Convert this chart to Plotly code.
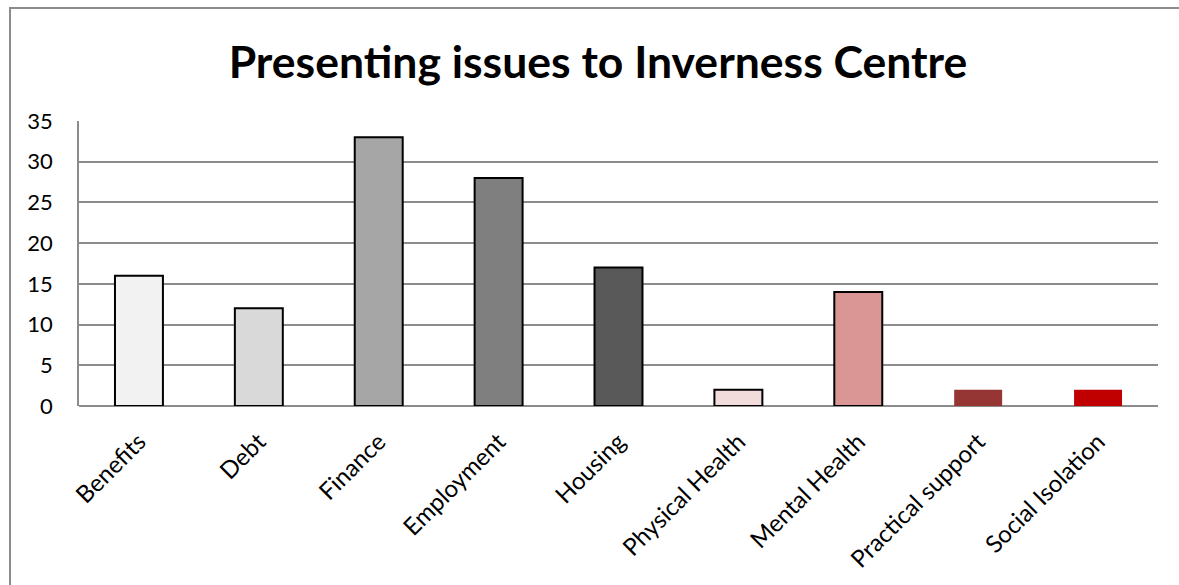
import plotly.graph_objects as go

categories = ["Benefits", "Debt", "Finance", "Employment", "Housing",
              "Physical Health", "Mental Health", "Practical support", "Social Isolation"]
counts = [16, 12, 33, 28, 17, 2, 14, 2, 2]
bar_colors = ["#F2F2F2", "#D9D9D9", "#A6A6A6", "#7F7F7F", "#595959",
              "#F2DCDB", "#DA9694", "#963634", "#C00000"]
outline_widths = [2, 2, 2, 2, 2, 2, 2, 0, 0]
y_ticks = [0, 5, 10, 15, 20, 25, 30, 35]

FONT = "Lato"

fig = go.Figure(go.Bar(
    x=categories,
    y=counts,
    width=0.4,
    marker=dict(color=bar_colors, line=dict(color="#000000", width=outline_widths)),
))

W, H = 1179, 585
ml, mr, mt, mb = 79, 21, 121, 179
pw, ph = W - ml - mr, H - mt - mb

fig.update_layout(
    width=W, height=H,
    margin=dict(l=ml, r=mr, t=mt, b=mb),
    paper_bgcolor="white", plot_bgcolor="white",
    showlegend=False,
    title=dict(text="<b>Presenting issues to Inverness Centre</b>",
               x=598 / W, xanchor="center", y=1 - 62 / H, yanchor="middle",
               font=dict(family=FONT, size=44.5, color="#000000")),
    font=dict(family=FONT, color="#000000"),
    xaxis=dict(tickangle=-45, tickfont=dict(size=24, family=FONT),
               showgrid=False, showline=False, ticks="", ticklabelstandoff=16),
    yaxis=dict(range=[0, 35], tickvals=y_ticks, tickfont=dict(size=22, family=FONT),
               showgrid=True, gridcolor="#8C8C8C", gridwidth=1.5,
               showline=True, linecolor="#8C8C8C", linewidth=1.5,
               zeroline=True, zerolinecolor="#8C8C8C", zerolinewidth=1.5,
               ticks="", ticklabelstandoff=20),
    shapes=[dict(type="rect", xref="paper", yref="paper",
                 x0=(10 - ml) / pw, x1=1.2, y0=-1.0, y1=(H - mb - 8) / ph,
                 line=dict(color="#8C8C8C", width=2), fillcolor="rgba(0,0,0,0)",
                 layer="below")],
)

fig.write_html("out.html")
